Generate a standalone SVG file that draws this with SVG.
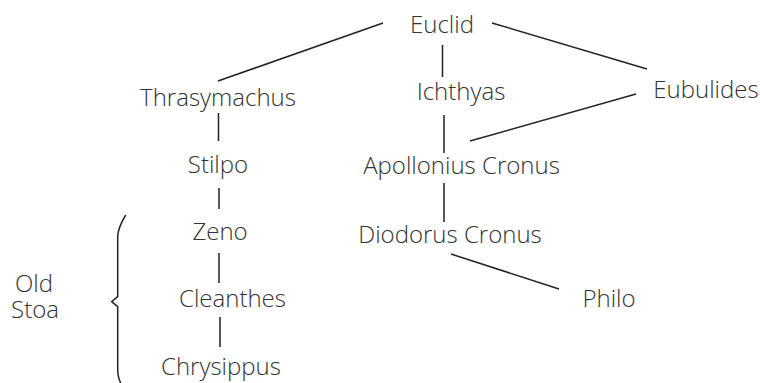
<svg xmlns="http://www.w3.org/2000/svg" width="760" height="383" viewBox="0 0 760 383">
  <style>
    .lbl { font-family: "Open Sans", "Liberation Sans", sans-serif; font-weight: 300; font-size: 24px; fill: #333; text-anchor: middle; }
    .edge { stroke: #222; stroke-width: 1.5; fill: none; }
  </style>
  <rect width="760" height="383" fill="#fff"/>

  <g id="connectors">
    <line class="edge" x1="383" y1="23" x2="218" y2="81"/>
    <line class="edge" x1="492" y1="23" x2="647" y2="69"/>
    <line class="edge" x1="442.5" y1="45" x2="442.5" y2="77"/>
    <line class="edge" x1="444" y1="115" x2="444" y2="153"/>
    <line class="edge" x1="636" y1="94" x2="470" y2="141"/>
    <line class="edge" x1="444" y1="183" x2="444" y2="222"/>
    <line class="edge" x1="451" y1="254" x2="559" y2="289"/>
    <line class="edge" x1="218.5" y1="113" x2="218.5" y2="141"/>
    <line class="edge" x1="219" y1="188" x2="219" y2="209"/>
    <line class="edge" x1="219" y1="253" x2="219" y2="283"/>
    <line class="edge" x1="220" y1="317" x2="220" y2="347"/>
  </g>

  <g id="euclid"><text class="lbl" x="442" y="33">Euclid</text></g>
  <g id="thrasymachus"><text class="lbl" x="218" y="106">Thrasymachus</text></g>
  <g id="ichthyas"><text class="lbl" x="461" y="100">Ichthyas</text></g>
  <g id="eubulides"><text class="lbl" x="706" y="98">Eubulides</text></g>
  <g id="stilpo"><text class="lbl" x="218" y="173">Stilpo</text></g>
  <g id="apollonius-cronus"><text class="lbl" x="461.5" y="174">Apollonius Cronus</text></g>
  <g id="zeno"><text class="lbl" x="220" y="240">Zeno</text></g>
  <g id="diodorus-cronus"><text class="lbl" x="450" y="243">Diodorus Cronus</text></g>
  <g id="cleanthes"><text class="lbl" x="232.5" y="307">Cleanthes</text></g>
  <g id="philo"><text class="lbl" x="609" y="307">Philo</text></g>
  <g id="chrysippus"><text class="lbl" x="221" y="375">Chrysippus</text></g>

  <g id="old-stoa">
    <path class="edge" d="M125.7,215 Q118,228 117.7,236 L117.7,296.7 L111.7,301.7 L117.7,306.7 L117.7,370 Q118,378 120.7,383"/>
    <text class="lbl" x="34" y="292">Old</text>
    <text class="lbl" x="35" y="318">Stoa</text>
  </g>
</svg>
